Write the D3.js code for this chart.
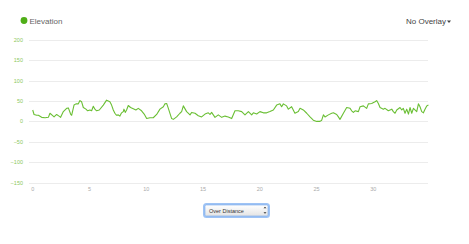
<!DOCTYPE html>
<html>
<head>
<meta charset="utf-8">
<script src="https://cdn.jsdelivr.net/npm/d3@7"></script>
<style>
	html, body { margin: 0; padding: 0; background: #fff; }
	svg { display: block; font-family: "Liberation Sans", "DejaVu Sans", sans-serif; }
</style>
</head>
<body>
<div class="chart"></div>
<script>
// elevation profile, distance in km, elevation in m
const distance = [
	0, 0.12, 0.35, 0.5, 0.79, 1.09, 1.38, 1.52, 1.76, 1.88, 2.11, 2.32, 2.46, 2.7, 2.99, 3.14, 3.34, 3.43, 3.64, 3.81,
	4.02, 4.16, 4.31, 4.46, 4.69, 4.84, 5.04, 5.19, 5.34, 5.48, 5.63, 5.87, 6.22, 6.51, 6.8, 6.95, 7.1, 7.24, 7.39, 7.54,
	7.68, 7.83, 7.98, 8.04, 8.15, 8.27, 8.42, 8.62, 8.86, 9.09, 9.3, 9.59, 9.82, 10.04, 10.33, 10.62, 10.92,
	11.21, 11.51, 11.65, 11.8, 11.95, 12.24, 12.39, 12.68, 12.97, 13.12, 13.27, 13.56, 13.86, 14.0, 14.3, 14.59, 14.88,
	15.18, 15.47, 15.62, 15.76, 16.06, 16.35, 16.65, 16.94, 17.23, 17.53, 17.82, 18.11, 18.41, 18.7, 19.0, 19.29, 19.44,
	19.73, 20.02, 20.32, 20.61, 20.9, 21.2, 21.49, 21.78, 21.93, 22.08, 22.37, 22.52, 22.81, 23.1, 23.4,
	23.55, 23.84, 24.14, 24.43, 24.72, 25.02, 25.31, 25.46, 25.61, 25.75, 26.05, 26.34, 26.49, 26.78, 26.93, 27.07,
	27.37, 27.66, 27.96, 28.1, 28.25, 28.4, 28.69, 28.84, 29.13, 29.42, 29.57, 29.86, 30.16, 30.3, 30.45, 30.6, 30.89,
	31.04, 31.33, 31.63, 31.77, 31.92, 32.07, 32.36, 32.51, 32.65, 32.8, 32.95, 33.1, 33.24, 33.39, 33.54, 33.83,
	33.98, 34.12, 34.27, 34.42, 34.56, 34.71, 34.86
];
const elevation = [
	28, 17, 15, 15, 10, 9, 10, 20, 14, 11, 17, 13, 10, 24, 32, 33, 18, 15, 40, 43,
	43, 51, 48, 34, 30, 26, 28, 26, 37, 30, 26, 28, 40, 52, 48, 40, 28, 20, 15, 16,
	13, 21, 24, 30, 22, 28, 39, 34, 31, 28, 32, 26, 18, 7, 9, 9, 17,
	30, 36, 43, 44, 32, 7, 5, 11, 20, 24, 38, 24, 16, 22, 20, 14, 11,
	18, 21, 17, 22, 10, 16, 10, 13, 11, 7, 26, 26, 24, 16, 24, 16, 21,
	18, 24, 21, 21, 24, 28, 40, 43, 36, 43, 38, 30, 36, 20, 24,
	32, 28, 20, 11, 3, 0, 0, 3, 16, 11, 16, 20, 21, 17, 11, 5,
	20, 34, 32, 26, 22, 26, 24, 36, 38, 32, 43, 44, 48, 51, 44, 34, 30,
	32, 26, 30, 24, 20, 28, 34, 28, 32, 20, 30, 18, 34, 20, 32, 24,
	43, 36, 24, 21, 30, 38, 40
];
const yTicks = [200, 150, 100, 50, 0, -50, -100, -150];
const xTicks = [0, 5, 10, 15, 20, 25, 30];

const width = 469;
const height = 244;
const gridLeft = 29;
const gridRight = 428;
const green = '#6abf34';

const data = distance.map((d, i) => ({ d, e: elevation[i] }));

// scales
const scaleX = d3.scaleLinear().domain([0, 35]).range([32.7, 430]);
const scaleY = d3.scaleLinear().domain([-150, 200]).range([182.7, 39.7]);

const $svg = d3.select('.chart').append('svg')
	.attr('width', width)
	.attr('height', height);

// legend
$svg.append('circle')
	.attr('cx', 24)
	.attr('cy', 20.5)
	.attr('r', 3.4)
	.attr('fill', '#4fae17');
$svg.append('text')
	.attr('x', 29.5)
	.attr('y', 23.5)
	.attr('font-size', 8)
	.attr('fill', '#666')
	.text('Elevation');

$svg.append('text')
	.attr('x', 446)
	.attr('y', 23.5)
	.attr('text-anchor', 'end')
	.attr('font-size', 8)
	.attr('fill', '#444')
	.text('No Overlay');
$svg.append('path')
	.attr('d', 'M447,20.5 L451,20.5 L449,23 Z')
	.attr('fill', '#444');

// grid + y labels
const $grid = $svg.append('g').attr('class', 'g-grid');
$grid.selectAll('line')
	.data(yTicks)
	.join('line')
	.attr('x1', gridLeft)
	.attr('x2', gridRight)
	.attr('y1', d => Math.round(scaleY(d)) + 0.5)
	.attr('y2', d => Math.round(scaleY(d)) + 0.5)
	.attr('stroke', '#ececec')
	.attr('stroke-width', 1);

$grid.selectAll('text')
	.data(yTicks)
	.join('text')
	.attr('x', 23)
	.attr('y', d => scaleY(d) + 2)
	.attr('text-anchor', 'end')
	.attr('font-size', 5.5)
	.attr('fill', '#8cc860')
	.text(d => d < 0 ? '\u2212' + Math.abs(d) : d);

// x axis labels
$svg.append('g').attr('class', 'g-axis')
	.selectAll('text')
	.data(xTicks)
	.join('text')
	.attr('x', d => scaleX(d))
	.attr('y', 191)
	.attr('text-anchor', 'middle')
	.attr('font-size', 5.5)
	.attr('fill', '#aaa')
	.text(d => d);

// elevation line
const line = d3.line()
	.x(d => scaleX(d.d))
	.y(d => scaleY(d.e));

$svg.append('path')
	.datum(data)
	.attr('d', line)
	.attr('fill', 'none')
	.attr('stroke', green)
	.attr('stroke-width', 1.1)
	.attr('stroke-linejoin', 'round');

// "Over Distance" select box
const defs = $svg.append('defs');
const grad = defs.append('linearGradient')
	.attr('id', 'sel-grad')
	.attr('x1', 0).attr('y1', 0).attr('x2', 0).attr('y2', 1);
grad.append('stop').attr('offset', '0%').attr('stop-color', '#ffffff');
grad.append('stop').attr('offset', '100%').attr('stop-color', '#e4e4e4');

const $sel = $svg.append('g').attr('transform', 'translate(204, 204)');
$sel.append('rect')
	.attr('width', 65)
	.attr('height', 13)
	.attr('rx', 2.5)
	.attr('fill', 'none')
	.attr('stroke', '#9ec3f5')
	.attr('stroke-width', 2);
$sel.append('rect')
	.attr('x', 1)
	.attr('y', 1)
	.attr('width', 63)
	.attr('height', 11)
	.attr('rx', 1.5)
	.attr('fill', 'url(#sel-grad)')
	.attr('stroke', '#7aa7e8')
	.attr('stroke-width', 0.6);
$sel.append('text')
	.attr('x', 5)
	.attr('y', 8.8)
	.attr('font-size', 5.5)
	.attr('fill', '#333')
	.text('Over Distance');
$sel.append('path')
	.attr('d', 'M59.5,4.2 L61,2.8 L62.5,4.2 Z M59.5,8.3 L61,9.7 L62.5,8.3 Z')
	.attr('fill', '#333');
</script>
</body>
</html>
